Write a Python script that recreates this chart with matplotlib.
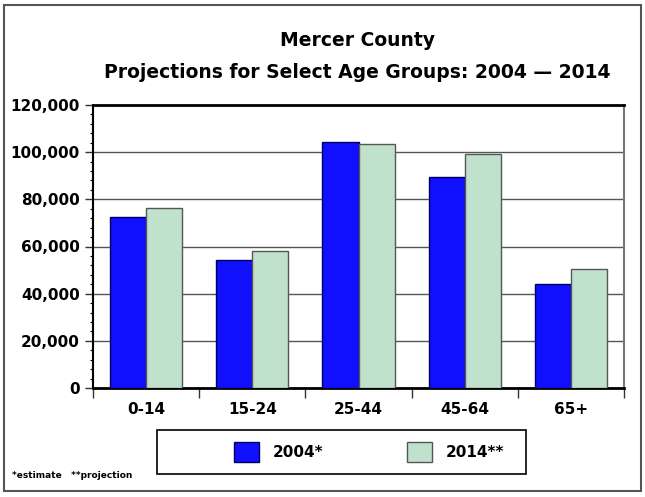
import matplotlib
matplotlib.use('Agg')
import matplotlib.pyplot as plt
import matplotlib.patches as patches
from matplotlib.ticker import FuncFormatter, MultipleLocator
import numpy as np

# 数据
age_groups = ['0-14', '15-24', '25-44', '45-64', '65+']
pop_2004 = [72600, 54100, 104400, 89600, 44200]
pop_2014 = [76400, 58200, 103500, 99100, 50300]
series_labels = ['2004*', '2014**']

W, H = 645, 497
fig = plt.figure(figsize=(W / 100, H / 100), dpi=100)
plt.rcParams['font.family'] = ['DejaVu Sans']

# 绘图区域（像素坐标换算）
x0, x1, y_top, y_bot = 93, 624, 105, 388
ax = fig.add_axes([x0 / W, 1 - y_bot / H, (x1 - x0) / W, (y_bot - y_top) / H])

x = np.arange(len(age_groups))
bw = 0.34
ax.bar(x - bw / 2, pop_2004, bw, color='#1010FF', edgecolor='#000060',
       linewidth=1.0, label=series_labels[0], zorder=3)
ax.bar(x + bw / 2, pop_2014, bw, color='#C0E2CC', edgecolor='#555555',
       linewidth=1.0, label=series_labels[1], zorder=3)

ax.set_xlim(-0.5, len(age_groups) - 0.5)
ax.set_ylim(0, 120000)
ax.yaxis.set_major_locator(MultipleLocator(20000))
ax.yaxis.set_minor_locator(MultipleLocator(4000))
ax.yaxis.set_major_formatter(FuncFormatter(lambda v, p: f'{int(v):,}'))
ax.grid(axis='y', color='#555555', linewidth=1.0, zorder=0)

# 类别刻度放在分界处，标签放在中心
ax.set_xticks(np.arange(len(age_groups) + 1) - 0.5)
ax.set_xticklabels([])
ax.set_xticks(x, minor=True)
ax.set_xticklabels(age_groups, minor=True)
ax.tick_params(axis='x', which='major', length=7, width=1.0, color='#333333')
ax.tick_params(axis='x', which='minor', length=0, pad=10, labelsize=11)
ax.tick_params(axis='y', which='major', length=6, width=1.0, labelsize=11, color='#333333')
ax.tick_params(axis='y', which='minor', length=2, width=0.8)
for lab in ax.get_xticklabels(minor=True) + ax.get_yticklabels():
    lab.set_fontweight('bold')

ax.spines['left'].set_color('black')
ax.spines['left'].set_linewidth(1.5)
ax.spines['bottom'].set_color('black')
ax.spines['bottom'].set_linewidth(2)
ax.spines['top'].set_color('black')
ax.spines['top'].set_linewidth(2)
ax.spines['right'].set_color('#777777')
ax.spines['right'].set_linewidth(1.5)

# 标题
fig.text(357 / W, 1 - 40 / H, 'Mercer County', ha='center', va='center',
         fontsize=13.5, fontweight='bold')
fig.text(357 / W, 1 - 73 / H, 'Projections for Select Age Groups: 2004 \u2014 2014',
         ha='center', va='center', fontsize=13.5, fontweight='bold')

# 图例框
fig.patches.append(patches.Rectangle((157 / W, 1 - 474 / H), 369 / W, 44 / H,
                                     transform=fig.transFigure, facecolor='white',
                                     edgecolor='black', linewidth=1.2))
handles, labels = ax.get_legend_handles_labels()
leg = fig.legend(handles, labels, loc='center', bbox_to_anchor=(369 / W, 1 - 452 / H),
                 ncol=2, frameon=False, fontsize=11, handlelength=1.6,
                 handleheight=1.7, handletextpad=0.9, columnspacing=5.5)
for t in leg.get_texts():
    t.set_fontweight('bold')

# 脚注
fig.text(12 / W, 1 - 476 / H, '*estimate   **projection', ha='left', va='center',
         fontsize=6.5, fontweight='bold')

# 外框
fig.patches.append(patches.Rectangle((4 / W, 1 - 491 / H), 637 / W, 486 / H,
                                     transform=fig.transFigure, fill=False,
                                     edgecolor='#555555', linewidth=1.5))

fig.savefig('out.png', dpi=100)
